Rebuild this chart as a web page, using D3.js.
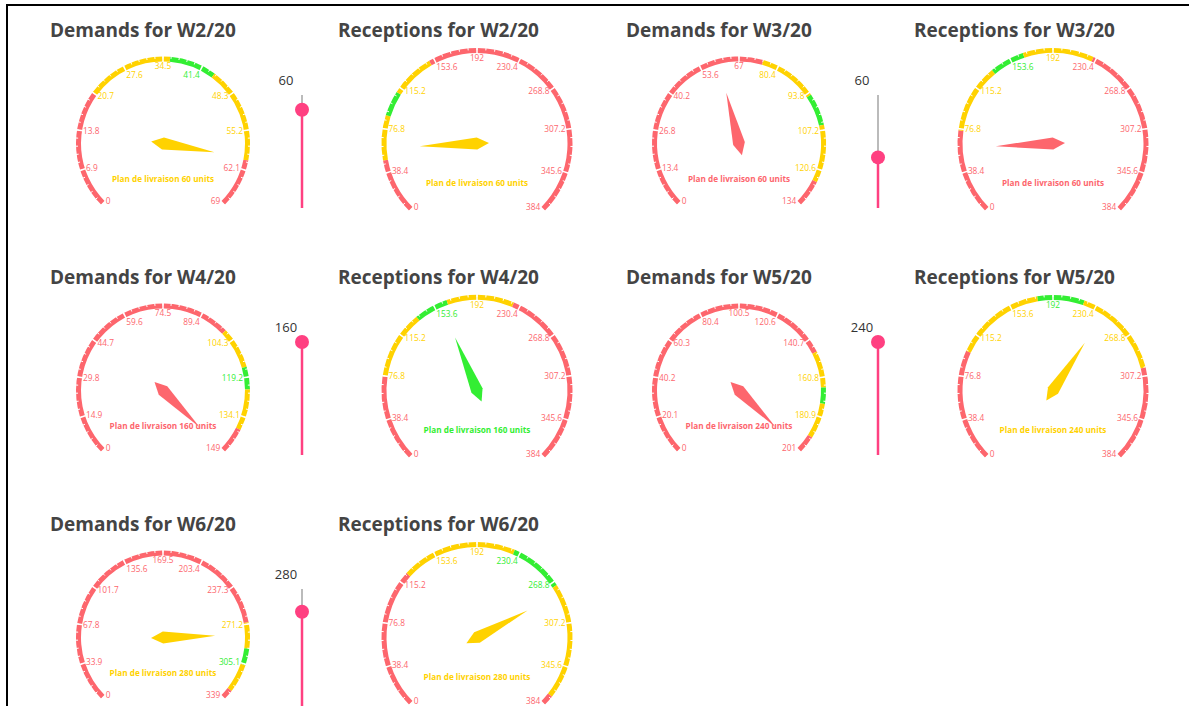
<!DOCTYPE html>
<html>
<head>
<meta charset="utf-8">
<script src="https://cdn.jsdelivr.net/npm/d3@7"></script>
<style>
    html, body { margin: 0; padding: 0; background: #fff; }
    svg { display: block; font-family: "Open Sans", sans-serif; }
</style>
</head>
<body>
<svg id="board" width="1189" height="706"></svg>
<script>
// weekly demand / reception gauges with the delivery plan slider
const weeks = ["W2/20", "W3/20", "W4/20", "W5/20", "W6/20"];
const plans = [60, 60, 160, 240, 280];
const demandMax = [69, 134, 149, 201, 339];
const receptionMax = [384, 384, 384, 384, 384];
// band limits on each axis: red | yellow | green | yellow | red
const demandBands = [
    [20.7, 35.7, 43.8, 60.4],
    [75.1, 94.7, 105.5, 124.8],
    [100, 115.4, 123.8, 139.1],
    [147.7, 166, 174.2, 191.9],
    [269.8, 291.9, 306, 330.2]
];
const receptionBands = [
    [49.4, 88.6, 110.5, 149.2],
    [75.4, 135.5, 165.8, 227.8],
    [76.2, 136, 165.5, 224.4],
    [99, 178.5, 219.5, 300],
    [124.4, 225.3, 272.5, 374.5]
];
const bandColors = ["#fd666d", "#ffd200", "#33ee33", "#ffd200", "#fd666d"];

const svg = d3.select("#board");

// frame
svg.append("path")
    .attr("d", "M7,720 L7,5 L1200,5")
    .attr("fill", "none")
    .attr("stroke", "#000")
    .attr("stroke-width", 2);

function drawGauge(g, cx, cy, r, max, bands, value) {
    const ang = d3.scaleLinear().domain([0, max]).range([-0.75 * Math.PI, 0.75 * Math.PI]).clamp(true);
    const colorAt = v => bandColors[d3.bisectRight(bands, v)];
    const lineW = 5;
    const pt = (a, rr) => [cx + rr * Math.sin(a), cy - rr * Math.cos(a)];

    const stops = [0, ...bands, max];
    const arc = d3.arc();
    g.selectAll(".band")
        .data(d3.range(stops.length - 1))
        .join("path")
        .attr("class", "band")
        .attr("transform", `translate(${cx},${cy})`)
        .attr("fill", k => bandColors[k])
        .attr("d", k => arc({innerRadius: r - lineW, outerRadius: r, startAngle: ang(stops[k]), endAngle: ang(stops[k + 1])}));

    // minor ticks
    const minor = d3.range(51).map(i => max * i / 50);
    g.selectAll(".tick-minor")
        .data(minor)
        .join("line")
        .attr("class", "tick-minor")
        .attr("x1", d => pt(ang(d), r - 2)[0]).attr("y1", d => pt(ang(d), r - 2)[1])
        .attr("x2", d => pt(ang(d), r + 1)[0]).attr("y2", d => pt(ang(d), r + 1)[1])
        .attr("stroke", "#fff")
        .attr("stroke-width", 1);

    // split lines + labels
    const ticks = d3.range(11).map(i => max * i / 10);
    g.selectAll(".split")
        .data(ticks)
        .join("line")
        .attr("class", "split")
        .attr("x1", d => pt(ang(d), r - lineW - 1)[0]).attr("y1", d => pt(ang(d), r - lineW - 1)[1])
        .attr("x2", d => pt(ang(d), r + 1)[0]).attr("y2", d => pt(ang(d), r + 1)[1])
        .attr("stroke", "#fff")
        .attr("stroke-width", 1.5);

    g.selectAll(".tick-label")
        .data(ticks)
        .join("text")
        .attr("class", "tick-label")
        .attr("x", d => pt(ang(d), r - 6)[0])
        .attr("y", d => pt(ang(d), r - 6)[1])
        .attr("text-anchor", d => {
            const ux = Math.sin(ang(d));
            return ux < -0.4 ? "start" : (ux > 0.4 ? "end" : "middle");
        })
        .attr("dy", d => {
            const uy = -Math.cos(ang(d));
            return uy < -0.8 ? "0.8em" : (uy > 0.8 ? "0em" : "0.35em");
        })
        .attr("font-size", 8.3)
        .attr("fill", d => colorAt(d))
        .text(d => +(d.toFixed(1)));

    // pointer
    const len = r * 0.6, w = 6;
    const v = Math.min(value, max);
    g.append("path")
        .attr("transform", `translate(${cx},${cy}) rotate(${ang(v) * 180 / Math.PI})`)
        .attr("d", `M0,${-len} L${w},0 L0,${2 * w} L${-w},0 Z`)
        .attr("fill", colorAt(v));

    g.append("text")
        .attr("x", cx)
        .attr("y", cy + r * 0.41)
        .attr("dy", "0.35em")
        .attr("text-anchor", "middle")
        .attr("font-size", 8.2)
        .attr("font-weight", "bold")
        .attr("fill", colorAt(v))
        .text(`Plan de livraison ${value} units`);
}

function drawSlider(g, x, top, bottom, max, value) {
    const y = d3.scaleLinear().domain([0, max]).range([bottom, top]).clamp(true);
    g.append("line")
        .attr("x1", x).attr("x2", x)
        .attr("y1", top).attr("y2", y(value))
        .attr("stroke", "#bbb").attr("stroke-width", 2);
    g.append("line")
        .attr("x1", x).attr("x2", x)
        .attr("y1", y(value)).attr("y2", bottom)
        .attr("stroke", "#ff4081").attr("stroke-width", 2.5);
    g.append("circle")
        .attr("cx", x).attr("cy", y(value))
        .attr("r", 7)
        .attr("fill", "#ff4081");
    g.append("text")
        .attr("x", x - 16)
        .attr("y", top - 15)
        .attr("dy", "0.35em")
        .attr("text-anchor", "middle")
        .attr("font-size", 13)
        .attr("fill", "#333")
        .text(value);
}

weeks.forEach((wk, i) => {
    const dx = (i % 2) * 576;
    const dy = Math.floor(i / 2) * 247;
    const g = svg.append("g").attr("class", "week");

    g.append("text")
        .attr("x", 50 + dx).attr("y", 37 + dy)
        .attr("font-size", 19).attr("font-weight", "bold")
        .attr("fill", "#444")
        .text(`Demands for ${wk}`);
    g.append("text")
        .attr("x", 338 + dx).attr("y", 37 + dy)
        .attr("font-size", 19).attr("font-weight", "bold")
        .attr("fill", "#444")
        .text(`Receptions for ${wk}`);

    drawGauge(g.append("g"), 163 + dx, 143.5 + dy, 87, demandMax[i], demandBands[i], plans[i]);
    drawSlider(g.append("g"), 302 + dx, 95 + dy, i === 4 ? 720 : 208 + dy, demandMax[i], plans[i]);
    drawGauge(g.append("g"), 477 + dx, 143.5 + dy, 95.5, receptionMax[i], receptionBands[i], plans[i]);
});
</script>
</body>
</html>
